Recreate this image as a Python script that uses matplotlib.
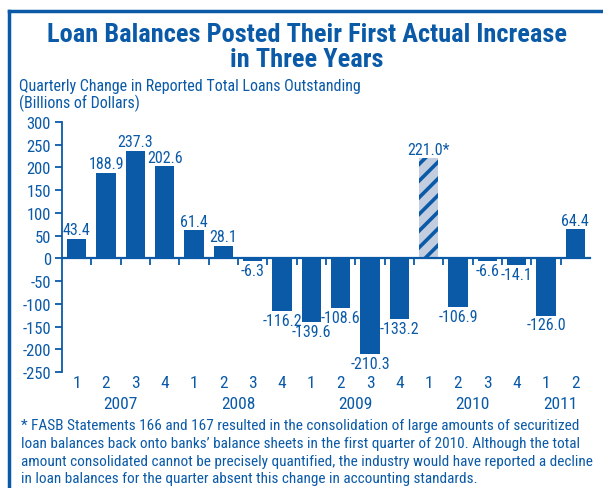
import matplotlib
matplotlib.use("Agg")
import matplotlib.pyplot as plt
from matplotlib.lines import Line2D
import numpy as np

# data
quarters = ["1", "2", "3", "4"] * 4 + ["1", "2"]
years = ["2007", "2008", "2009", "2010", "2011"]
year_pos = [1.5, 5.5, 9.5, 13.5, 16.5]
values = [43.4, 188.9, 237.3, 202.6, 61.4, 28.1, -6.3, -116.2, -139.6,
          -108.6, -210.3, -133.2, 221.0, -106.9, -6.6, -14.1, -126.0, 64.4]
labels = ["%.1f" % v for v in values]
labels[12] = "221.0*"
hatched = 12

title_lines = ["Loan Balances Posted Their First Actual Increase", "in Three Years"]
subtitle_lines = ["Quarterly Change in Reported Total Loans Outstanding", "(Billions of Dollars)"]
note_lines = [
    "* FASB Statements 166 and 167 resulted in the consolidation of large amounts of securitized",
    "loan balances back onto banks\u2019 balance sheets in the first quarter of 2010. Although the total",
    "amount consolidated cannot be precisely quantified, the industry would have reported a decline",
    "in loan balances for the quarter absent this change in accounting standards.",
]

blue = "#0a5aa8"
plt.rcParams['font.family'] = ['Roboto Condensed', 'DejaVu Sans']
plt.rcParams['axes.unicode_minus'] = False
plt.rcParams['hatch.linewidth'] = 2.6

W, H = 603, 489
fig = plt.figure(figsize=(W / 100, H / 100), dpi=100)
ax = fig.add_axes([62 / W, 1 - 373 / H, 528 / W, 250 / H])

x = np.arange(len(values))
bars = ax.bar(x, values, width=0.67, color=blue, linewidth=0)
bars[hatched].set_facecolor("#c3cde0")
bars[hatched].set_edgecolor(blue)
bars[hatched].set_hatch("//")

for xi, v, lab in zip(x, values, labels):
    if v >= 0:
        ax.text(xi, v + 3, lab, ha="center", va="bottom", fontsize=11.5, color=blue)
    else:
        ax.text(xi, v - 4, lab, ha="center", va="top", fontsize=11.5, color=blue)

ax.set_xlim(-0.5, len(values) - 0.5)
ax.set_ylim(-250, 300)
ax.set_yticks(np.arange(-250, 301, 50))
ax.tick_params(axis="y", colors=blue, labelsize=12, length=5, width=1.3, pad=3)

for s in ["top", "right"]:
    ax.spines[s].set_visible(False)
ax.spines["left"].set_color(blue)
ax.spines["left"].set_linewidth(1.3)
ax.spines["bottom"].set_position(("data", 0))
ax.spines["bottom"].set_color(blue)
ax.spines["bottom"].set_linewidth(1.6)
ax.set_xticks(np.arange(0.5, len(values) - 1, 1))
ax.set_xticklabels([])
ax.tick_params(axis="x", colors=blue, direction="out", length=5, width=1.3)

for xi, q in zip(x, quarters):
    ax.text(xi, -15 / 250, q, transform=ax.get_xaxis_transform(), ha="center",
            va="baseline", fontsize=12.5, color=blue)
for xp, yr in zip(year_pos, years):
    ax.text(xp, -36 / 250, yr, transform=ax.get_xaxis_transform(), ha="center",
            va="baseline", fontsize=12.5, color=blue)

for line, yb in zip(title_lines, [42, 67]):
    fig.text(307 / W, 1 - yb / H, line, ha="center", va="baseline", fontsize=19,
             fontweight="bold", color=blue)
for line, yb in zip(subtitle_lines, [91, 108]):
    fig.text(19 / W, 1 - yb / H, line, ha="left", va="baseline", fontsize=11.5, color=blue)
for line, yb in zip(note_lines, [430, 448, 466, 483]):
    fig.text(21 / W, 1 - yb / H, line, ha="left", va="baseline", fontsize=11, color=blue)

# frame around the chart
fig.add_artist(Line2D([9 / W, 9 / W], [0, 1 - 12 / H], color=blue, lw=2.5))
fig.add_artist(Line2D([9 / W, 1], [1 - 12 / H, 1 - 12 / H], color=blue, lw=2.5))

fig.savefig("out.png", dpi=100)
